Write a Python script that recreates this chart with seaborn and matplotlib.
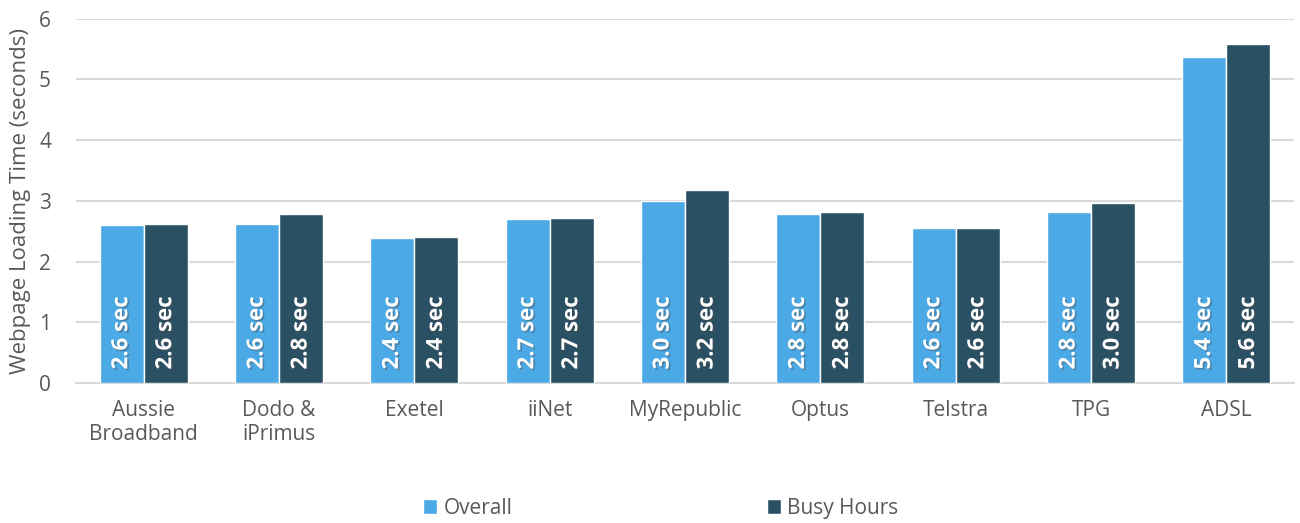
import matplotlib
matplotlib.use('Agg')
import matplotlib.pyplot as plt
import matplotlib.patheffects as pe
import seaborn as sns
import pandas as pd

# data
providers = ['Aussie\nBroadband', 'Dodo &\niPrimus', 'Exetel', 'iiNet', 'MyRepublic',
             'Optus', 'Telstra', 'TPG', 'ADSL']
overall = [2.60, 2.62, 2.39, 2.70, 3.00, 2.78, 2.56, 2.82, 5.37]
busy    = [2.62, 2.78, 2.40, 2.72, 3.18, 2.82, 2.56, 2.96, 5.58]
series  = ['Overall', 'Busy Hours']
colors  = ['#4BA9E6', '#2A5064']
yticks  = [0, 1, 2, 3, 4, 5, 6]

df = pd.DataFrame({
    'provider': providers * 2,
    'series': [series[0]] * len(providers) + [series[1]] * len(providers),
    'value': overall + busy,
})

sns.set_theme(style='white')
plt.rcParams['font.family'] = ['Open Sans', 'DejaVu Sans']
text_col = '#595959'
grid_col = '#D9D9D9'

fig = plt.figure(figsize=(13, 5.23), dpi=100)
ax = fig.add_axes([0.0585, 0.268, 0.937, 0.696])

sns.barplot(data=df, x='provider', y='value', hue='series', hue_order=series,
            palette=colors, width=0.65, saturation=1, ax=ax, legend=True, zorder=3)

ax.set_ylim(0, 6)
ax.set_yticks(yticks)
ax.yaxis.grid(True, color=grid_col, linewidth=1.5, zorder=0)
ax.set_axisbelow(True)
for s in ['top', 'right', 'left']:
    ax.spines[s].set_visible(False)
ax.spines['bottom'].set_color(grid_col)
ax.spines['bottom'].set_linewidth(1.5)
ax.tick_params(axis='x', length=0, labelsize=15, colors=text_col, pad=12)
ax.tick_params(axis='y', length=0, labelsize=15, colors=text_col, pad=18)
ax.set_xlabel('')
ax.set_ylabel('Webpage Loading Time (seconds)', fontsize=16, color=text_col, labelpad=6)

# value labels inside bars, rotated
for cont in ax.containers:
    for bar in cont:
        h = bar.get_height()
        ax.text(bar.get_x() + bar.get_width() / 2, 0.22, f'{h:.1f} sec',
                rotation=90, ha='center', va='bottom', color='white',
                fontsize=16, fontweight='bold', zorder=5,
                path_effects=[pe.withSimplePatchShadow(offset=(1.2, -1.2), alpha=0.4)])

handles, labels = ax.get_legend_handles_labels()
ax.legend(handles, labels, loc='upper center', bbox_to_anchor=(0.48, -0.265),
          ncol=2, frameon=False, fontsize=15, handlelength=0.7, handleheight=0.7,
          handletextpad=0.3, columnspacing=12.2, labelcolor=text_col)

fig.savefig('out.png', dpi=100)
